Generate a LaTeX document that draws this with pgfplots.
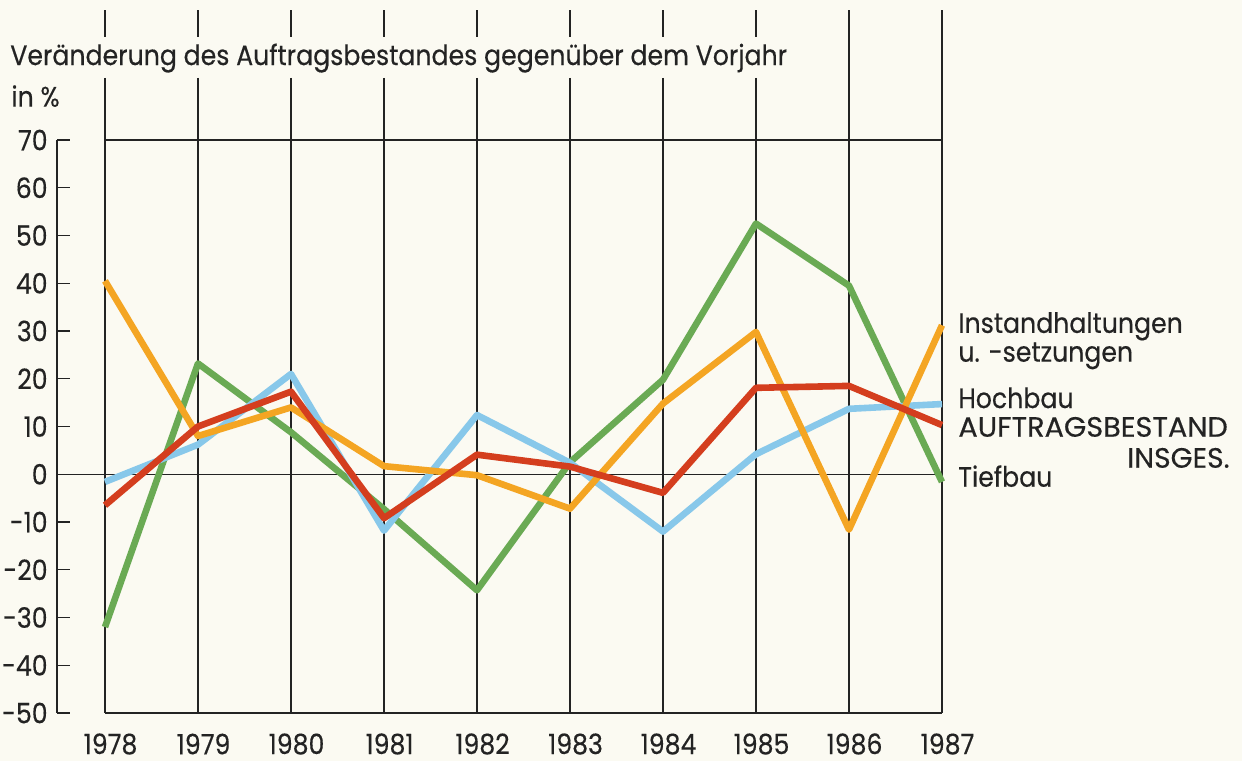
\documentclass[border=0pt]{standalone}
\usepackage{pgfplots}
\pgfplotsset{compat=1.18}
\usepackage{graphicx}
\usepackage{fontspec}
\setmainfont{Poppins}[FakeStretch=0.9, FakeBold=0.35]
\definecolor{bg}{RGB}{251,250,242}
\definecolor{txt}{RGB}{35,35,35}
\definecolor{cOr}{RGB}{244,165,35}
\definecolor{cGr}{RGB}{106,170,84}
\definecolor{cBl}{RGB}{136,200,234}
\definecolor{cRd}{RGB}{212,62,30}
\newcommand{\fs}{\fontsize{14}{16}\selectfont}
\begin{document}
\begin{tikzpicture}
\begin{axis}[
  scale only axis, width=418.5pt, height=286.5pt,
  xmin=1978, xmax=1987, ymin=-50, ymax=70,
  hide axis, clip=false,
  every axis plot/.append style={line width=3.3pt, line join=round, no markers},
]
% background / bounding box
\fill[bg] (axis cs:1976.871,99.32) rectangle (axis cs:1990.226,-60.05);
% grid
\begin{scope}[line width=0.65pt, txt]
\pgfplotsinvokeforeach{1978,1979,1980,1981,1982,1983,1984,1985}{
  \draw (axis cs:#1,97.2) -- (axis cs:#1,91.6);
  \draw (axis cs:#1,83.0) -- (axis cs:#1,-50);
}
\pgfplotsinvokeforeach{1986,1987}{
  \draw (axis cs:#1,97.2) -- (axis cs:#1,-50);
}
\draw (axis cs:1978,70) -- (axis cs:1987,70);
\draw (axis cs:1978,-50) -- (axis cs:1987,-50);
\draw (axis cs:1977.484,0) -- (axis cs:1987,0);
\draw (axis cs:1977.484,70) -- (axis cs:1977.484,-50);
\pgfplotsinvokeforeach{-50,-40,-30,-20,-10,0,10,20,30,40,50,60,70}{
  \draw (axis cs:1977.484,#1) -- (axis cs:1977.624,#1);
  \node[anchor=east, inner sep=0pt, font=\fs, text=txt] at (axis cs:1977.39,#1) {#1};
}
\pgfplotsinvokeforeach{1978,1979,1980,1981,1982,1983,1984,1985,1986,1987}{
  \node[anchor=center, inner sep=0pt, font=\fs, text=txt] at (axis cs:#1.06,-56.5) {#1};
}
\end{scope}
% texts
\begin{scope}[every node/.style={inner sep=0pt, text=txt, font=\fs}]
\node[anchor=base west] at (axis cs:1976.978,85.7) {Veränderung des Auftragsbestandes gegenüber dem Vorjahr};
\node[anchor=base west] at (axis cs:1976.99,77.0) {in \%};
\node[anchor=base west] at (axis cs:1987.172,29.6) {Instandhaltungen};
\node[anchor=base west] at (axis cs:1987.172,23.57) {u. -setzungen};
\node[anchor=base west] at (axis cs:1987.172,13.87) {Hochbau};
\node[anchor=base west] at (axis cs:1987.172,7.86) {\scalebox{1.14}[1]{AUFTRAGSBESTAND}};
\node[anchor=base east] at (axis cs:1990.097,1.37) {\scalebox{1.12}[1]{INSGES.}};
\node[anchor=base west] at (axis cs:1987.172,-2.61) {Tiefbau};
\end{scope}
% Tiefbau (green)
\addplot[cGr] coordinates {(1978,-32) (1979,23.2) (1980,8.8) (1981,-7.3) (1982,-24.3) (1983,2.5) (1984,19.8) (1985,52.5) (1986,39.5) (1987,-1.6)};
% Hochbau (blue)
\addplot[cBl] coordinates {(1978,-1.6) (1979,6.2) (1980,21) (1981,-11.8) (1982,12.4) (1983,2.4) (1984,-12) (1985,4.2) (1986,13.7) (1987,14.7)};
% Instandhaltungen (orange)
\addplot[cOr] coordinates {(1978,40.5) (1979,8) (1980,14) (1981,1.7) (1982,-0.2) (1983,-7.2) (1984,14.8) (1985,29.8) (1986,-11.6) (1987,31.2)};
% Auftragsbestand insgesamt (red)
\addplot[cRd] coordinates {(1978,-6.5) (1979,10) (1980,17.3) (1981,-9.2) (1982,4.1) (1983,1.6) (1984,-3.9) (1985,18.1) (1986,18.5) (1987,10.3)};
\end{axis}
\end{tikzpicture}
\end{document}
